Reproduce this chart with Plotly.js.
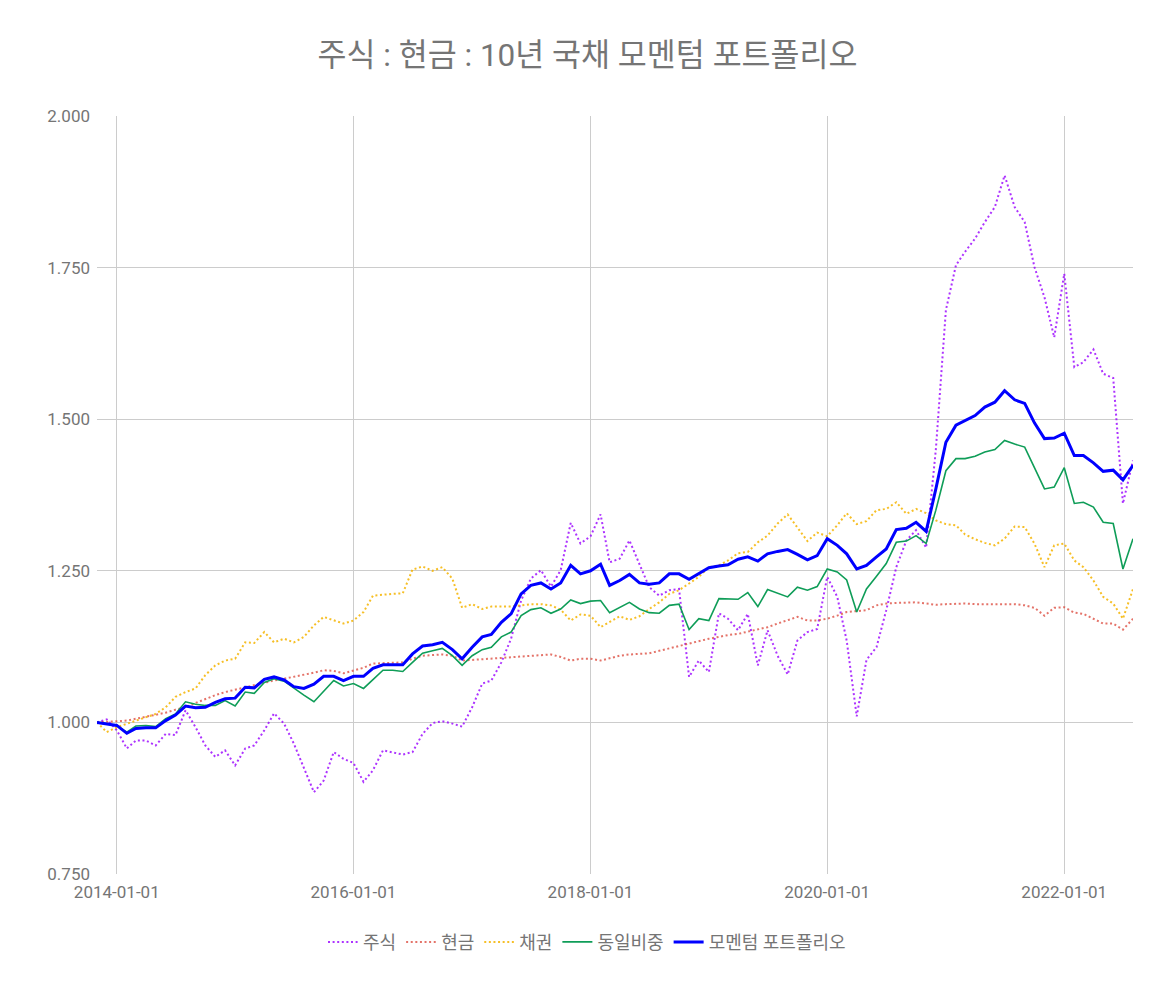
<!DOCTYPE html>
<html>
<head>
<meta charset="utf-8">
<script src="https://cdn.plot.ly/plotly-3.0.1.min.js"></script>
<style>
  html, body { margin:0; padding:0; background:#ffffff; }
  #chart { width:1175px; height:995px; }
</style>
</head>
<body>
<div id="chart"></div>
<script>
// Monthly observations, first point 2013-11-01, last 2022-08-01
const startYear = 2013, startMonth = 11, nPoints = 106;
const months = [];
for (let k = 0; k < nPoints; k++) {
  const mm = startMonth - 1 + k;
  const y = startYear + Math.floor(mm / 12);
  const m = (mm % 12) + 1;
  months.push(y + '-' + String(m).padStart(2, '0') + '-01');
}

const seriesNames = ['주식', '현금', '채권', '동일비중', '모멘텀 포트폴리오'];

const stock = [
  1.000,1.005,0.987,0.957,0.970,0.970,0.962,0.981,0.979,1.020,
  0.992,0.962,0.943,0.954,0.929,0.957,0.962,0.987,1.015,0.998,
  0.965,0.926,0.885,0.904,0.951,0.940,0.933,0.902,0.921,0.954,
  0.951,0.947,0.951,0.981,0.999,1.002,0.998,0.993,1.025,1.064,
  1.069,1.099,1.138,1.201,1.237,1.251,1.224,1.251,1.329,1.295,
  1.307,1.343,1.264,1.270,1.300,1.262,1.223,1.209,1.218,1.220,
  1.075,1.102,1.083,1.180,1.171,1.152,1.179,1.094,1.152,1.110,
  1.079,1.135,1.149,1.154,1.240,1.207,1.135,1.010,1.103,1.124,
  1.185,1.256,1.300,1.317,1.288,1.450,1.680,1.754,1.776,1.798,
  1.825,1.850,1.902,1.850,1.825,1.751,1.701,1.635,1.740,1.586,
  1.594,1.615,1.575,1.568,1.361,1.432
];

const cash = [
  1.000,1.001,1.002,1.003,1.006,1.009,1.012,1.016,1.021,1.025,
  1.032,1.039,1.045,1.050,1.054,1.058,1.062,1.066,1.069,1.072,
  1.075,1.078,1.082,1.086,1.085,1.081,1.086,1.090,1.097,1.098,
  1.099,1.099,1.105,1.110,1.111,1.112,1.110,1.102,1.103,1.104,
  1.105,1.107,1.108,1.109,1.110,1.111,1.112,1.108,1.102,1.105,
  1.105,1.102,1.106,1.110,1.112,1.113,1.114,1.118,1.122,1.127,
  1.131,1.134,1.138,1.141,1.144,1.146,1.150,1.153,1.157,1.163,
  1.169,1.174,1.168,1.168,1.171,1.176,1.182,1.184,1.185,1.193,
  1.196,1.197,1.197,1.198,1.196,1.194,1.195,1.196,1.196,1.195,
  1.195,1.194,1.195,1.195,1.193,1.189,1.176,1.189,1.190,1.181,
  1.179,1.171,1.163,1.163,1.153,1.171
];

const bond = [
  1.000,0.984,0.992,0.998,1.003,1.009,1.014,1.025,1.042,1.050,
  1.056,1.078,1.094,1.102,1.105,1.132,1.131,1.149,1.132,1.138,
  1.132,1.141,1.160,1.174,1.168,1.163,1.168,1.182,1.209,1.211,
  1.212,1.213,1.252,1.257,1.250,1.256,1.237,1.189,1.195,1.187,
  1.191,1.191,1.191,1.193,1.195,1.195,1.193,1.186,1.168,1.178,
  1.176,1.157,1.165,1.175,1.169,1.175,1.187,1.198,1.212,1.218,
  1.229,1.240,1.256,1.259,1.267,1.279,1.281,1.297,1.308,1.328,
  1.343,1.322,1.299,1.313,1.307,1.325,1.345,1.327,1.332,1.350,
  1.352,1.363,1.344,1.352,1.345,1.333,1.327,1.325,1.310,1.302,
  1.296,1.292,1.303,1.323,1.322,1.295,1.256,1.292,1.295,1.267,
  1.256,1.234,1.207,1.196,1.171,1.220
];

const equalWeight = [
  1.000,0.997,0.995,0.984,0.994,0.995,0.993,1.006,1.014,1.034,
  1.030,1.028,1.028,1.036,1.027,1.050,1.048,1.066,1.072,1.068,
  1.056,1.045,1.034,1.051,1.069,1.060,1.064,1.056,1.070,1.086,
  1.086,1.084,1.099,1.114,1.118,1.122,1.110,1.094,1.110,1.120,
  1.124,1.141,1.149,1.176,1.186,1.189,1.180,1.187,1.202,1.196,
  1.200,1.201,1.181,1.190,1.198,1.187,1.181,1.180,1.193,1.195,
  1.153,1.171,1.168,1.204,1.204,1.203,1.214,1.191,1.219,1.213,
  1.207,1.223,1.218,1.224,1.253,1.248,1.235,1.182,1.220,1.241,
  1.262,1.297,1.299,1.308,1.295,1.350,1.415,1.435,1.435,1.439,
  1.446,1.450,1.465,1.459,1.454,1.420,1.385,1.388,1.420,1.361,
  1.363,1.355,1.330,1.328,1.253,1.303
];

const momentum = [
  1.000,0.997,0.995,0.982,0.990,0.991,0.991,1.003,1.012,1.027,
  1.024,1.025,1.033,1.039,1.040,1.058,1.057,1.071,1.075,1.070,
  1.059,1.056,1.063,1.076,1.076,1.069,1.076,1.076,1.089,1.095,
  1.095,1.095,1.113,1.126,1.128,1.132,1.120,1.105,1.124,1.141,
  1.145,1.165,1.179,1.212,1.226,1.230,1.220,1.230,1.259,1.245,
  1.250,1.261,1.226,1.234,1.244,1.230,1.228,1.230,1.245,1.245,
  1.236,1.246,1.255,1.258,1.260,1.269,1.273,1.266,1.278,1.282,
  1.285,1.277,1.268,1.275,1.303,1.292,1.278,1.253,1.259,1.273,
  1.286,1.318,1.320,1.330,1.315,1.385,1.462,1.490,1.498,1.506,
  1.520,1.528,1.547,1.532,1.526,1.494,1.468,1.469,1.477,1.440,
  1.440,1.428,1.414,1.416,1.400,1.424
];

const xTickVals = ['2014-01-01','2016-01-01','2018-01-01','2020-01-01','2022-01-01'];
const xTickText = ['2014-01-01','2016-01-01','2018-01-01','2020-01-01','2022-01-01'];
const yTickVals = [0.75, 1.0, 1.25, 1.5, 1.75, 2.0];
const yTickText = ['0.750','1.000','1.250','1.500','1.750','2.000'];

const colors = ['#9900ff', '#db4437', '#f4b400', '#0f9d58', '#0000ff'];
const FONT = 'Roboto, "Noto Sans CJK KR", "Noto Sans", sans-serif';
const GREY = '#757575';

const seriesData = [stock, cash, bond, equalWeight, momentum];
const widths = [2, 2, 2, 1.6, 3];
const dashes = ['2px,2.6px', '2px,2.6px', '2px,2.6px', 'solid', 'solid'];
const opac = [0.8, 0.75, 0.85, 1, 1];

const traces = seriesData.map((vals, k) => ({
  type: 'scatter',
  mode: 'lines',
  name: seriesNames[k],
  x: months,
  y: vals,
  opacity: opac[k],
  line: { color: colors[k], width: widths[k], dash: dashes[k] },
  hoverinfo: 'skip'
}));

const layout = {
  width: 1175,
  height: 995,
  margin: { l: 97, r: 42, t: 116, b: 121, pad: 0 },
  paper_bgcolor: '#ffffff',
  plot_bgcolor: '#ffffff',
  font: { family: FONT, color: GREY, size: 17 },
  title: {
    text: '주식 : 현금 : 10년 국채 모멘텀 포트폴리오',
    font: { family: FONT, size: 31.5, color: GREY },
    x: 0.5, xref: 'container', xanchor: 'center',
    y: 1 - 55 / 995, yref: 'container', yanchor: 'middle'
  },
  xaxis: {
    type: 'date',
    range: ['2013-11-01', '2022-08-01'],
    tickmode: 'array',
    tickvals: xTickVals,
    ticktext: xTickText,
    showgrid: true,
    gridcolor: '#cccccc',
    gridwidth: 1,
    zeroline: false,
    showline: false,
    ticks: '',
    ticklabelstandoff: 6,
    tickfont: { family: FONT, size: 17, color: GREY }
  },
  yaxis: {
    range: [0.75, 2.0],
    tickmode: 'array',
    tickvals: yTickVals,
    ticktext: yTickText,
    showgrid: true,
    gridcolor: '#cccccc',
    gridwidth: 1,
    zeroline: false,
    showline: false,
    ticks: '',
    ticklabelstandoff: 6,
    tickfont: { family: FONT, size: 17, color: GREY }
  },
  showlegend: true,
  legend: {
    orientation: 'h',
    x: (587 - 97) / 1036, xanchor: 'center',
    y: -0.09, yanchor: 'middle',
    font: { family: FONT, size: 18, color: GREY },
    itemwidth: 30,
    traceorder: 'normal'
  }
};

Plotly.newPlot('chart', traces, layout, { displayModeBar: false, staticPlot: true });
</script>
</body>
</html>
